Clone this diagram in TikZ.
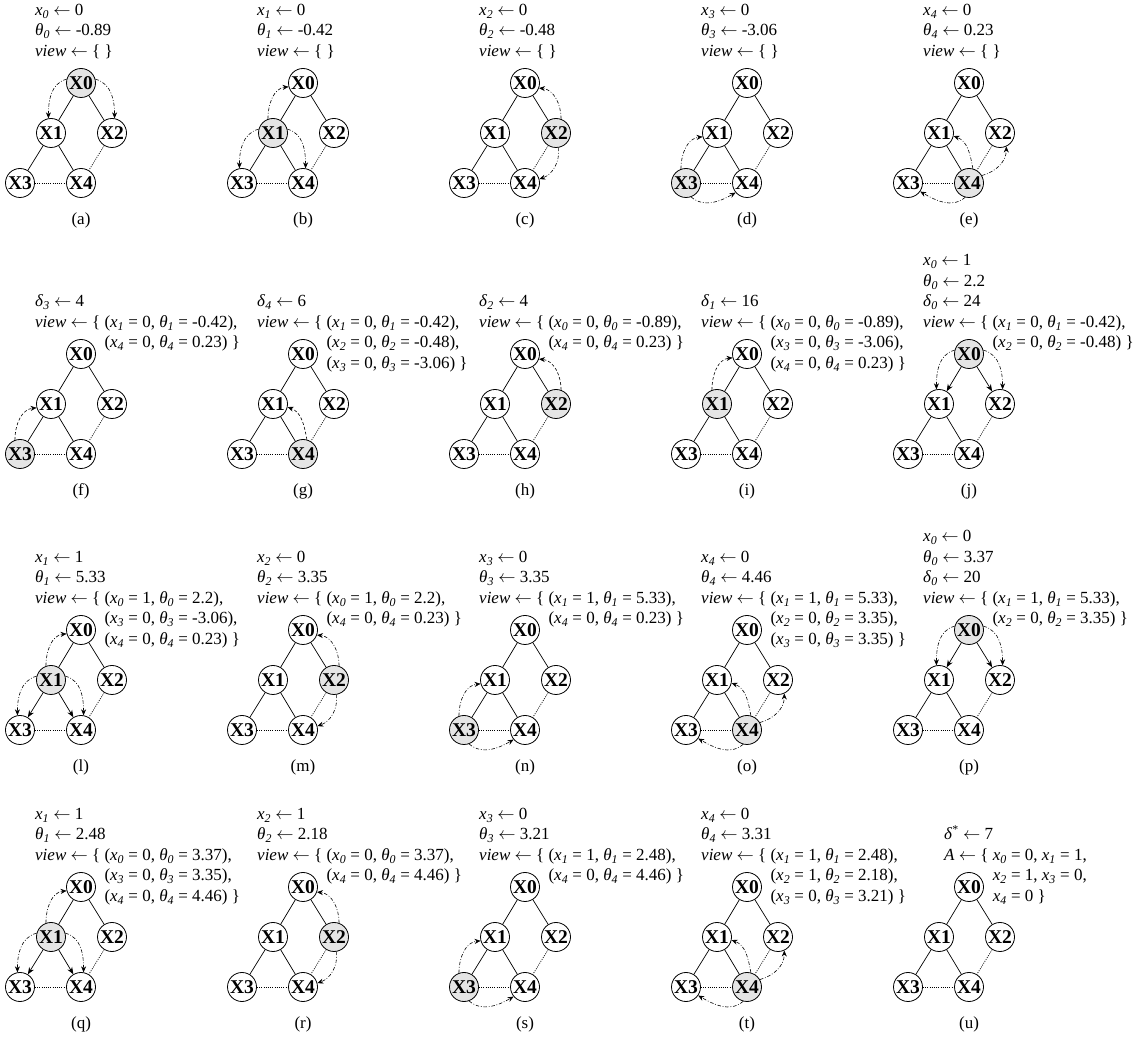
\documentclass[tikz,border=0pt]{standalone}
\usepackage{fontspec}
\setmainfont{Liberation Serif}
\usetikzlibrary{arrows.meta}
\definecolor{shadecol}{gray}{0.9}

\newcommand\sbs[1]{\textsubscript{\itshape #1}}
\newcommand\myx[1]{\textit{x}\sbs{#1}}
\newcommand\myt[1]{\textit{θ}\sbs{#1}}
\newcommand\myd[1]{\textit{δ}\sbs{#1}}
\newcommand\la{$\leftarrow$}
\newcommand\vw{\textit{view} \la{} \{}
\newcommand\ml[1]{\multicolumn{2}{@{}l@{}}{#1}}

% #1 prefix, #2 x, #3 y, #4 shaded node, #5 directed tree edges (0 none, 1 from X0, 2 from X1)
\newcommand\mkgraph[5]{%
  \tikzset{f0/.style={},f1/.style={},f2/.style={},f3/.style={},f4/.style={},f#4/.style={fill=shadecol}}%
  \tikzset{e01/.style={},e02/.style={},e13/.style={},e14/.style={}}%
  \ifnum#5=1 \tikzset{e01/.style={tarr},e02/.style={tarr}}\fi
  \ifnum#5=2 \tikzset{e13/.style={tarr},e14/.style={tarr}}\fi
  \node[nd,f0] (#1X0) at (#2,#3) {X0};
  \node[nd,f1] (#1X1) at (#2-30,#3-50) {X1};
  \node[nd,f2] (#1X2) at (#2+31,#3-50) {X2};
  \node[nd,f3] (#1X3) at (#2-61,#3-100) {X3};
  \node[nd,f4] (#1X4) at (#2,#3-100) {X4};
  \draw[treeline,e01] (#1X0) -- (#1X1);
  \draw[treeline,e02] (#1X0) -- (#1X2);
  \draw[treeline,e13] (#1X1) -- (#1X3);
  \draw[treeline,e14] (#1X1) -- (#1X4);
  \draw[backline] (#1X2) -- (#1X4);
  \draw[backline] (#1X3) -- (#1X4);
  \node[captxt] (#1cap) at (#2,#3-137) {(#1)};
}
% #1 name, #2 x of X0, #3 y of X0, #4 lines above view line, #5 body
\newcommand\mktext[5]{%
  \node[txt] (#1) at (#2-46,#3+26.5+20.5*#4) {\begin{tabular}[t]{@{}l@{\ }l@{}}#5\end{tabular}};}

\newcommand\dnL[3]{\draw[#1] (#2.165) to[out=195,in=90] (#3.100);}
\newcommand\dnR[3]{\draw[#1] (#2.15) to[out=-15,in=90] (#3.80);}
\newcommand\upL[3]{\draw[#1] (#2.110) to[out=90,in=185] (#3.195);}
\newcommand\upR[3]{\draw[#1] (#2.70) to[out=90,in=-5] (#3.-20);}
\newcommand\upLr[3]{\draw[#1] (#2.75) to[out=100,in=-20] (#3.-12);}
\newcommand\rtUp[3]{\draw[#1] (#2.30) to[out=15,in=-90] (#3.-65);}
\newcommand\rtDn[3]{\draw[#1] (#2.-80) to[out=-85,in=20] (#3.15);}
\newcommand\btL[3]{\draw[#1] (#2.-105) to[out=-140,in=-30] (#3.-35);}
\newcommand\btR[3]{\draw[#1] (#2.-70) to[out=-40,in=-150] (#3.-140);}

\tikzset{
  nd/.style={circle,draw,line width=0.8pt,minimum size=29pt,inner sep=0pt,
    font=\fontsize{19.5}{20}\selectfont\bfseries,fill=white},
  treeline/.style={line width=0.7pt},
  backline/.style={line width=0.7pt,dash pattern=on 1pt off 1.2pt},
  tarr/.style={-{Stealth[length=7pt,width=5.5pt]}},
  msg/.style={line width=0.6pt,dash pattern=on 3.5pt off 1.8pt on 0.8pt off 1.8pt,
    -{Stealth[length=6pt,width=5pt]}},
  msgd/.style={line width=0.6pt,dash pattern=on 3pt off 2pt,
    -{Stealth[length=6pt,width=5pt]}},
  txt/.style={anchor=base west,inner sep=0pt,font=\fontsize{17}{20.5}\selectfont},
  captxt/.style={inner sep=0pt,font=\fontsize{17}{20.5}\selectfont},
}

\begin{document}
\begin{tikzpicture}[x=1pt,y=1pt]
\useasboundingbox (0,0) rectangle (1141,1042);

% ---------- row 1 ----------
\mkgraph{a}{81}{959}{0}{0}
\mktext{ta}{81}{959}{2}{\ml{\myx{0} \la{} 0}\\ \ml{\myt{0} \la{} -0.89}\\ \ml{\textit{view} \la{} \{ \}}}
\dnL{msg}{aX0}{aX1} \dnR{msg}{aX0}{aX2}

\mkgraph{b}{303}{959}{1}{0}
\mktext{tb}{303}{959}{2}{\ml{\myx{1} \la{} 0}\\ \ml{\myt{1} \la{} -0.42}\\ \ml{\textit{view} \la{} \{ \}}}
\upL{msg}{bX1}{bX0} \dnL{msg}{bX1}{bX3} \dnR{msg}{bX1}{bX4}

\mkgraph{c}{525}{959}{2}{0}
\mktext{tc}{525}{959}{2}{\ml{\myx{2} \la{} 0}\\ \ml{\myt{2} \la{} -0.48}\\ \ml{\textit{view} \la{} \{ \}}}
\upR{msg}{cX2}{cX0} \rtDn{msg}{cX2}{cX4}

\mkgraph{d}{747}{959}{3}{0}
\mktext{td}{747}{959}{2}{\ml{\myx{3} \la{} 0}\\ \ml{\myt{3} \la{} -3.06}\\ \ml{\textit{view} \la{} \{ \}}}
\upL{msg}{dX3}{dX1} \btR{msg}{dX3}{dX4}

\mkgraph{e}{969}{959}{4}{0}
\mktext{te}{969}{959}{2}{\ml{\myx{4} \la{} 0}\\ \ml{\myt{4} \la{} 0.23}\\ \ml{\textit{view} \la{} \{ \}}}
\upLr{msg}{eX4}{eX1} \rtUp{msg}{eX4}{eX2} \btL{msg}{eX4}{eX3}

% ---------- row 2 ----------
\mkgraph{f}{81}{688}{3}{0}
\mktext{tf}{81}{688}{1}{\ml{\myd{3} \la{} 4}\\ \vw & (\myx{1} = 0, \myt{1} = -0.42),\\ & (\myx{4} = 0, \myt{4} = 0.23) \}}
\upL{msgd}{fX3}{fX1}

\mkgraph{g}{303}{688}{4}{0}
\mktext{tg}{303}{688}{1}{\ml{\myd{4} \la{} 6}\\ \vw & (\myx{1} = 0, \myt{1} = -0.42),\\ & (\myx{2} = 0, \myt{2} = -0.48),\\ & (\myx{3} = 0, \myt{3} = -3.06) \}}
\upLr{msgd}{gX4}{gX1}

\mkgraph{h}{525}{688}{2}{0}
\mktext{th}{525}{688}{1}{\ml{\myd{2} \la{} 4}\\ \vw & (\myx{0} = 0, \myt{0} = -0.89),\\ & (\myx{4} = 0, \myt{4} = 0.23) \}}
\upR{msgd}{hX2}{hX0}

\mkgraph{i}{747}{688}{1}{0}
\mktext{ti}{747}{688}{1}{\ml{\myd{1} \la{} 16}\\ \vw & (\myx{0} = 0, \myt{0} = -0.89),\\ & (\myx{3} = 0, \myt{3} = -3.06),\\ & (\myx{4} = 0, \myt{4} = 0.23) \}}
\upL{msgd}{iX1}{iX0}

\mkgraph{j}{969}{688}{0}{1}
\mktext{tj}{969}{688}{3}{\ml{\myx{0} \la{} 1}\\ \ml{\myt{0} \la{} 2.2}\\ \ml{\myd{0} \la{} 24}\\ \vw & (\myx{1} = 0, \myt{1} = -0.42),\\ & (\myx{2} = 0, \myt{2} = -0.48) \}}
\dnL{msg}{jX0}{jX1} \dnR{msg}{jX0}{jX2}

% ---------- row 3 ----------
\mkgraph{l}{81}{412}{1}{2}
\mktext{tl}{81}{412}{2}{\ml{\myx{1} \la{} 1}\\ \ml{\myt{1} \la{} 5.33}\\ \vw & (\myx{0} = 1, \myt{0} = 2.2),\\ & (\myx{3} = 0, \myt{3} = -3.06),\\ & (\myx{4} = 0, \myt{4} = 0.23) \}}
\upL{msg}{lX1}{lX0} \dnL{msg}{lX1}{lX3} \dnR{msg}{lX1}{lX4}

\mkgraph{m}{303}{412}{2}{0}
\mktext{tm}{303}{412}{2}{\ml{\myx{2} \la{} 0}\\ \ml{\myt{2} \la{} 3.35}\\ \vw & (\myx{0} = 1, \myt{0} = 2.2),\\ & (\myx{4} = 0, \myt{4} = 0.23) \}}
\upR{msg}{mX2}{mX0} \rtDn{msg}{mX2}{mX4}

\mkgraph{n}{525}{412}{3}{0}
\mktext{tn}{525}{412}{2}{\ml{\myx{3} \la{} 0}\\ \ml{\myt{3} \la{} 3.35}\\ \vw & (\myx{1} = 1, \myt{1} = 5.33),\\ & (\myx{4} = 0, \myt{4} = 0.23) \}}
\upL{msg}{nX3}{nX1} \btR{msg}{nX3}{nX4}

\mkgraph{o}{747}{412}{4}{0}
\mktext{to}{747}{412}{2}{\ml{\myx{4} \la{} 0}\\ \ml{\myt{4} \la{} 4.46}\\ \vw & (\myx{1} = 1, \myt{1} = 5.33),\\ & (\myx{2} = 0, \myt{2} = 3.35),\\ & (\myx{3} = 0, \myt{3} = 3.35) \}}
\upLr{msg}{oX4}{oX1} \rtUp{msg}{oX4}{oX2} \btL{msg}{oX4}{oX3}

\mkgraph{p}{969}{412}{0}{1}
\mktext{tp}{969}{412}{3}{\ml{\myx{0} \la{} 0}\\ \ml{\myt{0} \la{} 3.37}\\ \ml{\myd{0} \la{} 20}\\ \vw & (\myx{1} = 1, \myt{1} = 5.33),\\ & (\myx{2} = 0, \myt{2} = 3.35) \}}
\dnL{msg}{pX0}{pX1} \dnR{msg}{pX0}{pX2}

% ---------- row 4 ----------
\mkgraph{q}{81}{155}{1}{2}
\mktext{tq}{81}{155}{2}{\ml{\myx{1} \la{} 1}\\ \ml{\myt{1} \la{} 2.48}\\ \vw & (\myx{0} = 0, \myt{0} = 3.37),\\ & (\myx{3} = 0, \myt{3} = 3.35),\\ & (\myx{4} = 0, \myt{4} = 4.46) \}}
\upL{msg}{qX1}{qX0} \dnL{msg}{qX1}{qX3} \dnR{msg}{qX1}{qX4}

\mkgraph{r}{303}{155}{2}{0}
\mktext{tr}{303}{155}{2}{\ml{\myx{2} \la{} 1}\\ \ml{\myt{2} \la{} 2.18}\\ \vw & (\myx{0} = 0, \myt{0} = 3.37),\\ & (\myx{4} = 0, \myt{4} = 4.46) \}}
\upR{msg}{rX2}{rX0} \rtDn{msg}{rX2}{rX4}

\mkgraph{s}{525}{155}{3}{0}
\mktext{ts}{525}{155}{2}{\ml{\myx{3} \la{} 0}\\ \ml{\myt{3} \la{} 3.21}\\ \vw & (\myx{1} = 1, \myt{1} = 2.48),\\ & (\myx{4} = 0, \myt{4} = 4.46) \}}
\upL{msg}{sX3}{sX1} \btR{msg}{sX3}{sX4}

\mkgraph{t}{747}{155}{4}{0}
\mktext{tt}{747}{155}{2}{\ml{\myx{4} \la{} 0}\\ \ml{\myt{4} \la{} 3.31}\\ \vw & (\myx{1} = 1, \myt{1} = 2.48),\\ & (\myx{2} = 1, \myt{2} = 2.18),\\ & (\myx{3} = 0, \myt{3} = 3.21) \}}
\upLr{msg}{tX4}{tX1} \rtUp{msg}{tX4}{tX2} \btL{msg}{tX4}{tX3}

\mkgraph{u}{969}{155}{9}{0}
\mktext{tu}{990}{155}{1}{\ml{\textit{δ}\textsuperscript{*} \la{} 7}\\ \textit{A} \la{} \{ & \myx{0} = 0, \myx{1} = 1,\\ & \myx{2} = 1, \myx{3} = 0,\\ & \myx{4} = 0 \}}

\end{tikzpicture}
\end{document}
